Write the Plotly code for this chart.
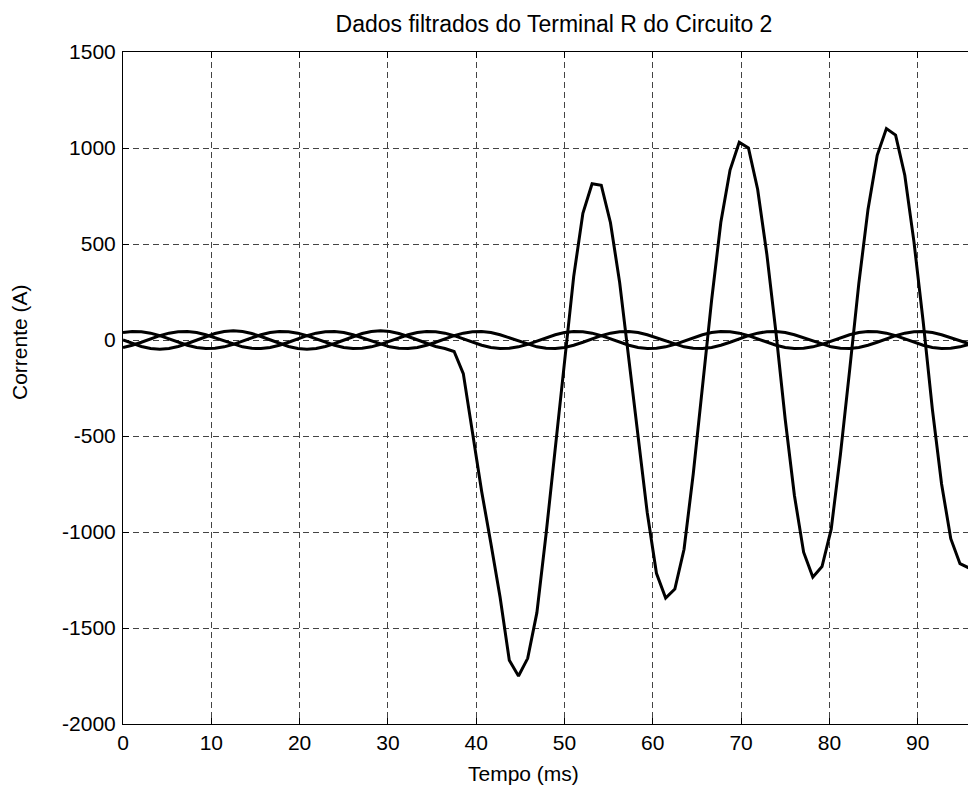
import plotly.graph_objects as go

# Sampling: 16 samples per 60 Hz cycle (960 Hz) -> period in ms
SAMPLE_PERIOD_MS = 1000.0 / 960.0

# Phase A (faulted phase), A
fase_a = [
    0, -18.4, -33.9, -44.3, -48, -44.3, -33.9, -18.4, 0, 18.4, 33.9, 44.3, 48, 44.3, 33.9, 18.4,
    0, -18.4, -33.9, -44.3, -48, -44.3, -33.9, -18.4, 0, 18.4, 33.9, 44.3, 48, 44.3, 33.9, 18.4,
    0, -18.4, -33.9, -44.3,
    -60, -175, -480, -790, -1060, -1340, -1668, -1750, -1658, -1420, -1010, -560, -100, 330,
    660, 814, 806, 611, 299, -96, -517, -900, -1215, -1344, -1297, -1090, -697, -251, 209,
    613, 885, 1030, 1000, 785, 447, 36, -414, -810, -1105, -1235, -1180, -985, -597, -158,
    294, 680, 962, 1101, 1067, 858, 510, 95, -361, -750, -1035, -1165, -1188, -1100, -890,
    -560, -150,
]

# Phase B, A (one cycle of 16 samples)
fase_b_ciclo = [39.0, 44.6, 43.5, 35.7, 22.5, 5.9, -11.6, -27.4,
                -39.0, -44.6, -43.5, -35.7, -22.5, -5.9, 11.6, 27.4]
# Phase C, A (one cycle of 16 samples)
fase_c_ciclo = [-39.0, -27.4, -11.6, 5.9, 22.5, 35.7, 43.5, 44.6,
                39.0, 27.4, 11.6, -5.9, -22.5, -35.7, -43.5, -44.6]

n = len(fase_a)
fase_b = (fase_b_ciclo * 7)[:n]
fase_c = (fase_c_ciclo * 7)[:n]
tempo = [k * SAMPLE_PERIOD_MS for k in range(n)]

x_ticks = [0, 10, 20, 30, 40, 50, 60, 70, 80, 90]
x_labels = ["0", "10", "20", "30", "40", "50", "60", "70", "80", "90"]
y_ticks = [-2000, -1500, -1000, -500, 0, 500, 1000, 1500]
y_labels = ["-2000", "-1500", "-1000", "-500", "0", "500", "1000", "1500"]

FONT = "Liberation Sans, Arial, sans-serif"
FS = 21

fig = go.Figure()
for serie in (fase_a, fase_b, fase_c):
    fig.add_trace(go.Scatter(x=tempo, y=serie, mode="lines",
                             line=dict(color="black", width=3),
                             showlegend=False, hoverinfo="skip"))

axis_common = dict(
    showline=True, linecolor="black", linewidth=1,
    ticks="inside", ticklen=6, tickcolor="black", tickwidth=1,
    showgrid=True, gridcolor="#444444", gridwidth=1, griddash="6px,4px",
    zeroline=False,
    tickfont=dict(family=FONT, size=FS, color="black"),
)

fig.update_layout(
    width=968, height=793,
    margin=dict(l=123, r=0, t=52, b=69),
    paper_bgcolor="white", plot_bgcolor="white",
    font=dict(family=FONT, size=FS, color="black"),
    title=dict(text="Dados filtrados do Terminal R do Circuito 2",
               font=dict(family=FONT, size=23, color="black"),
               xref="container", x=554 / 968, xanchor="center",
               yref="container", y=1 - 24 / 793, yanchor="middle"),
    xaxis=dict(range=[0, 95.7], tickvals=x_ticks, ticktext=x_labels, mirror="ticks",
               **axis_common),
    yaxis=dict(range=[-2000, 1500], tickvals=y_ticks, ticktext=y_labels, mirror=False,
               ticklabelstandoff=2, **axis_common),
    annotations=[
        dict(text="Tempo (ms)", xref="paper", x=(523 - 123) / 845, xanchor="center",
             yref="paper", y=-(774 - 724.4) / 672.7, yanchor="middle",
             showarrow=False, font=dict(family=FONT, size=FS, color="black")),
        dict(text="Corrente (A)", xref="paper", x=-(123 - 20) / 845, xanchor="center",
             yref="paper", y=(724.4 - 342) / 672.7, yanchor="middle", textangle=-90,
             showarrow=False, font=dict(family=FONT, size=FS, color="black")),
    ],
)

fig.write_html("out.html")
